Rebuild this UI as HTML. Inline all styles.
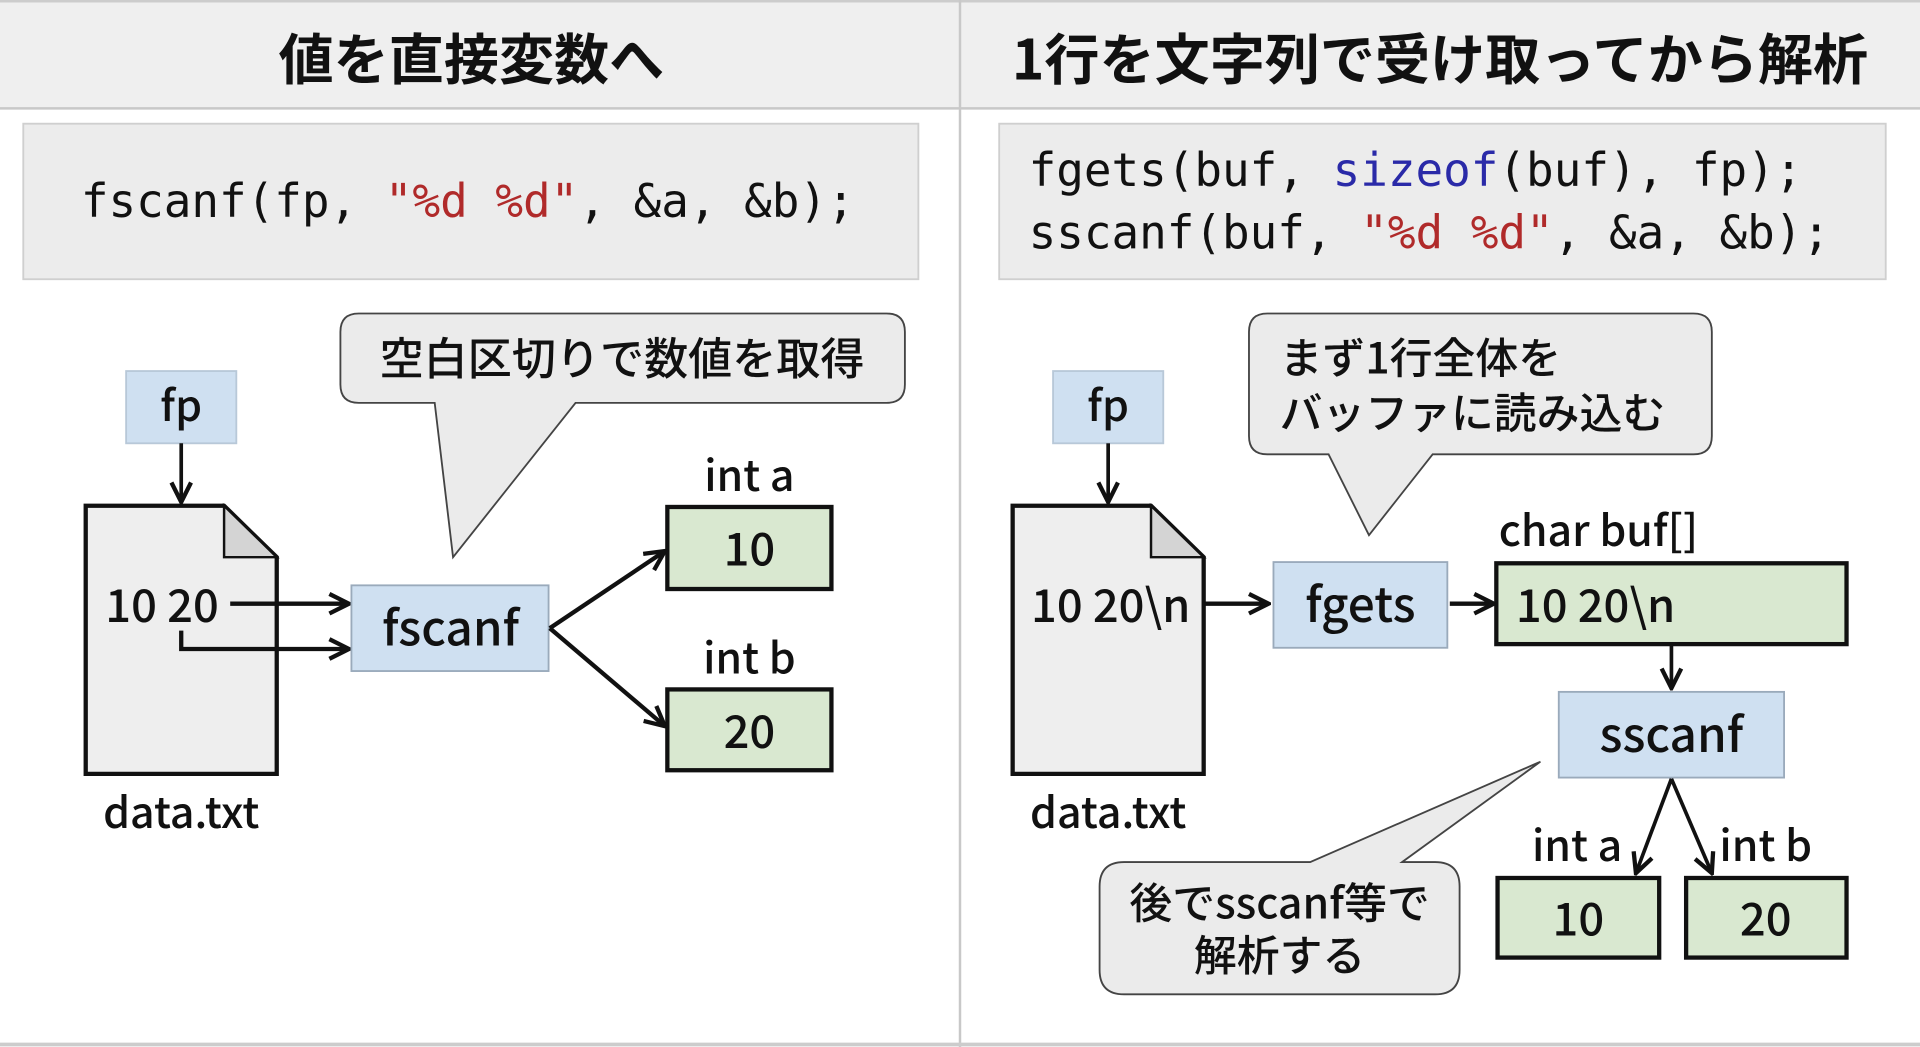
<!DOCTYPE html>
<html><head><meta charset="utf-8"><style>
html,body{margin:0;padding:0;background:#fff;}
svg{display:block;}
.s{font-family:"Noto Sans CJK JP","Liberation Sans",sans-serif;fill:#111;font-weight:500;}
.m{font-family:"DejaVu Sans Mono","Liberation Mono",monospace;fill:#111;}
</style></head><body>
<svg width="1920" height="1047" viewBox="0 0 1568 855" xmlns="http://www.w3.org/2000/svg">
<defs>
<marker id="ar2" viewBox="0 0 20 20" refX="18" refY="10" markerWidth="20" markerHeight="20" markerUnits="userSpaceOnUse" orient="auto">
<path d="M2,2 L18,10 L2,18" fill="none" stroke="#111" stroke-width="3.5"/>
</marker>
</defs>
<rect width="1568" height="855" fill="#fff"/>
<rect x="0" y="0" width="1568" height="88" fill="#efefef"/>
<line x1="0" y1="88.5" x2="1568" y2="88.5" stroke="#c8c8c8" stroke-width="2"/>
<line x1="0" y1="1" x2="1568" y2="1" stroke="#ccc" stroke-width="2"/>
<line x1="784" y1="0" x2="784" y2="855" stroke="#c8c8c8" stroke-width="2"/>
<line x1="0" y1="853" x2="1568" y2="853" stroke="#ccc" stroke-width="3"/>
<text class="s" x="385" y="65" font-size="45" style="font-weight:bold" text-anchor="middle">値を直接変数へ</text>
<text class="s" x="1176" y="65" font-size="45" style="font-weight:bold" text-anchor="middle">1行を文字列で受け取ってから解析</text>

<rect x="19" y="101" width="731" height="127" fill="#ececec" stroke="#cfcfcf" stroke-width="1.5"/>
<text class="m" x="66" y="177" font-size="37.5">fscanf(fp, <tspan fill="#b02a2a">"%d %d"</tspan>, &amp;a, &amp;b);</text>
<rect x="816" y="101" width="724" height="127" fill="#ececec" stroke="#cfcfcf" stroke-width="1.5"/>
<text class="m" x="840" y="152" font-size="37.5">fgets(buf, <tspan fill="#2a2aa8">sizeof</tspan>(buf), fp);</text>
<text class="m" x="840" y="203" font-size="37.5">sscanf(buf, <tspan fill="#b02a2a">"%d %d"</tspan>, &amp;a, &amp;b);</text>

<path d="M293,329 Q278,329 278,314 L278,271 Q278,256 293,256 L724,256 Q739,256 739,271 L739,314 Q739,329 724,329 L470,329 L370,455 L355,329 Z" fill="#ebebeb" stroke="#444" stroke-width="1.5"/>
<text class="s" x="508" y="306" font-size="36" text-anchor="middle">空白区切りで数値を取得</text>

<rect x="103" y="303" width="90" height="59" fill="#cfe0f1" stroke="#b8c8d8" stroke-width="1.5"/>
<text class="s" x="148" y="344" font-size="35" text-anchor="middle">fp</text>
<line x1="148" y1="362" x2="148" y2="410" stroke="#111" stroke-width="3" marker-end="url(#ar2)"/>

<path d="M70,413 L183,413 L226,455 L226,632 L70,632 Z" fill="#eeeeee" stroke="#111" stroke-width="3.5"/>
<path d="M183,413 L183,455 L226,455 Z" fill="#d4d4d4" stroke="#111" stroke-width="2"/>
<text class="s" x="86" y="508" font-size="37">10 20</text>
<line x1="188" y1="493" x2="285" y2="493" stroke="#111" stroke-width="3.5" marker-end="url(#ar2)"/>
<polyline points="148,515 148,530 285,530" fill="none" stroke="#111" stroke-width="3.5" marker-end="url(#ar2)"/>
<text class="s" x="148" y="676" font-size="35" text-anchor="middle">data.txt</text>

<rect x="287" y="478" width="161" height="70" fill="#cfe0f1" stroke="#9aaabb" stroke-width="1.5"/>
<text class="s" x="368" y="527" font-size="39" text-anchor="middle">fscanf</text>
<line x1="449" y1="513" x2="543" y2="450" stroke="#111" stroke-width="3.5" marker-end="url(#ar2)"/>
<line x1="449" y1="513" x2="543" y2="593" stroke="#111" stroke-width="3.5" marker-end="url(#ar2)"/>

<text class="s" x="612" y="401" font-size="35" text-anchor="middle">int a</text>
<rect x="545" y="414" width="134" height="67" fill="#d9e8d0" stroke="#111" stroke-width="3.5"/>
<text class="s" x="612" y="462" font-size="37" text-anchor="middle">10</text>
<text class="s" x="612" y="550" font-size="35" text-anchor="middle">int b</text>
<rect x="545" y="563" width="134" height="66" fill="#d9e8d0" stroke="#111" stroke-width="3.5"/>
<text class="s" x="612" y="611" font-size="37" text-anchor="middle">20</text>

<path d="M1035,371 Q1020,371 1020,356 L1020,271 Q1020,256 1035,256 L1383,256 Q1398,256 1398,271 L1398,356 Q1398,371 1383,371 L1170,371 L1118,437 L1085,371 Z" fill="#ebebeb" stroke="#444" stroke-width="1.5"/>
<text class="s" x="1045" y="305" font-size="35">まず1行全体を</text>
<text class="s" x="1045" y="350" font-size="35">バッファに読み込む</text>

<rect x="860" y="303" width="90" height="59" fill="#cfe0f1" stroke="#b8c8d8" stroke-width="1.5"/>
<text class="s" x="905" y="344" font-size="35" text-anchor="middle">fp</text>
<line x1="905" y1="362" x2="905" y2="410" stroke="#111" stroke-width="3" marker-end="url(#ar2)"/>

<path d="M827,413 L940,413 L983,455 L983,632 L827,632 Z" fill="#eeeeee" stroke="#111" stroke-width="3.5"/>
<path d="M940,413 L940,455 L983,455 Z" fill="#d4d4d4" stroke="#111" stroke-width="2"/>
<text class="s" x="842" y="508" font-size="37">10 20\n</text>
<line x1="984" y1="493" x2="1036" y2="493" stroke="#111" stroke-width="3.5" marker-end="url(#ar2)"/>
<text class="s" x="905" y="676" font-size="35" text-anchor="middle">data.txt</text>

<rect x="1040" y="459" width="142" height="70" fill="#cfe0f1" stroke="#9aaabb" stroke-width="1.5"/>
<text class="s" x="1111" y="508" font-size="39" text-anchor="middle">fgets</text>
<line x1="1184" y1="493" x2="1220" y2="493" stroke="#111" stroke-width="3.5" marker-end="url(#ar2)"/>

<text class="s" x="1224" y="446" font-size="35">char buf[]</text>
<rect x="1222" y="460" width="286" height="66" fill="#d9e8d0" stroke="#111" stroke-width="3.5"/>
<text class="s" x="1238" y="508" font-size="37">10 20\n</text>
<line x1="1365" y1="526" x2="1365" y2="562" stroke="#111" stroke-width="3" marker-end="url(#ar2)"/>

<rect x="1273" y="565" width="184" height="70" fill="#cfe0f1" stroke="#9aaabb" stroke-width="1.5"/>
<text class="s" x="1365" y="614" font-size="39" text-anchor="middle">sscanf</text>
<line x1="1365" y1="636" x2="1336" y2="713" stroke="#111" stroke-width="3" marker-end="url(#ar2)"/>
<line x1="1365" y1="636" x2="1398" y2="713" stroke="#111" stroke-width="3" marker-end="url(#ar2)"/>

<text class="s" x="1288" y="703" font-size="35" text-anchor="middle">int a</text>
<text class="s" x="1442" y="703" font-size="35" text-anchor="middle">int b</text>
<rect x="1223" y="717" width="132" height="65" fill="#d9e8d0" stroke="#111" stroke-width="3.5"/>
<text class="s" x="1289" y="764" font-size="37" text-anchor="middle">10</text>
<rect x="1377" y="717" width="131" height="65" fill="#d9e8d0" stroke="#111" stroke-width="3.5"/>
<text class="s" x="1442" y="764" font-size="37" text-anchor="middle">20</text>

<path d="M918,812 Q898,812 898,792 L898,724 Q898,704 918,704 L1070,704 L1258,622 L1145,704 L1172,704 Q1192,704 1192,724 L1192,792 Q1192,812 1172,812 Z" fill="#ebebeb" stroke="#444" stroke-width="1.5"/>
<text class="s" x="1045" y="750" font-size="35" text-anchor="middle">後でsscanf等で</text>
<text class="s" x="1045" y="793" font-size="35" text-anchor="middle">解析する</text>
</svg>
</body></html>
